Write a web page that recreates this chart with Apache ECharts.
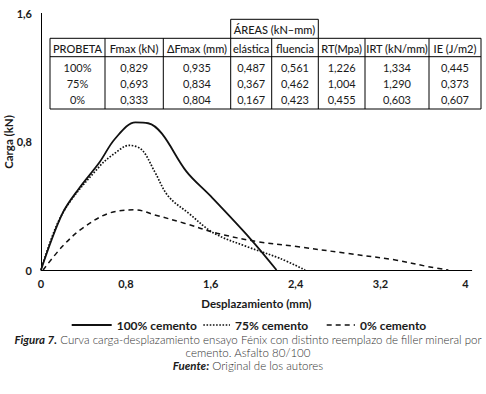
<!DOCTYPE html>
<html>
<head>
<meta charset="utf-8">
<script src="https://cdn.jsdelivr.net/npm/echarts@6/dist/echarts.min.js"></script>
<style>
html, body { margin: 0; padding: 0; background: #fff; }
#chart { width: 486px; height: 394px; }
</style>
</head>
<body>
<div id="chart"></div>
<script>
// curvas carga-desplazamiento: [desplazamiento (mm), carga (kN)]
var cem100 = [[0, 0], [0.2, 0.35], [0.36, 0.51], [0.55, 0.67], [0.70, 0.82], [0.89, 0.92],
	[1.01, 0.915], [1.14, 0.85], [1.37, 0.615], [1.60, 0.46], [1.98, 0.19], [2.22, 0]];
var cem75 = [[0, 0], [0.2, 0.35], [0.55, 0.645], [0.70, 0.73], [0.83, 0.777], [0.95, 0.75],
	[1.07, 0.615], [1.20, 0.46], [1.39, 0.355], [1.63, 0.23], [1.94, 0.146], [2.25, 0.073], [2.49, 0]];
var cem0 = [[0.02, 0], [0.2, 0.146], [0.39, 0.26], [0.64, 0.354], [0.89, 0.375], [1.07, 0.344],
	[1.35, 0.292], [1.66, 0.229], [2.04, 0.177], [2.41, 0.146], [2.88, 0.104], [3.34, 0.0625],
	[3.65, 0.021], [3.84, 0]];
var seriesNames = ['100% cemento', '75% cemento', '0% cemento'];
var yName = 'Carga (kN)';

// tabla de resultados
var tableGroup = 'ÁREAS (kN–mm)';
var tableHeader = ['PROBETA', 'Fmax (kN)', 'ΔFmax (mm)', 'elástica', 'fluencia', 'RT(Mpa)', 'IRT (kN/mm)', 'IE (J/m2)'];
var row100 = ['100%', '0,829', '0,935', '0,487', '0,561', '1,226', '1,334', '0,445'];
var row75 = ['75%', '0,693', '0,834', '0,367', '0,462', '1,004', '1,290', '0,373'];
var row0 = ['0%', '0,333', '0,804', '0,167', '0,423', '0,455', '0,603', '0,607'];

var FONT = 'Lato, "Noto Sans", sans-serif';
var INK = '#1a1a1a';

// estilos de linea de cada serie
var lineStyles = [
	{ color: '#111', width: 1.8, type: 'solid' },
	{ color: '#111', width: 1.7, type: [1.6, 1.6] },
	{ color: '#111', width: 1.5, type: [5, 4] }
];

// geometria de la tabla
var colX = [50, 105, 163.3, 230.7, 271.7, 318.3, 365, 429, 481];
var yGroupTop = 19.3, yTop = 38.3, yHead = 56.7, yBottom = 109;
var rowY = [67.5, 83.3, 99.2];

var chart = echarts.init(document.getElementById('chart'), null, { renderer: 'svg' });

var g = [];
function hline(x1, x2, y, st) {
	g.push({ type: 'line', shape: { x1: x1, y1: y, x2: x2, y2: y }, style: st || { stroke: '#000', lineWidth: 1 }, z: 10 });
}
function vline(x, y1, y2) {
	g.push({ type: 'line', shape: { x1: x, y1: y1, x2: x, y2: y2 }, style: { stroke: '#000', lineWidth: 1 }, z: 10 });
}
function cell(txt, x, y, weight, align, size) {
	g.push({
		type: 'text', x: x, y: y, z: 11,
		style: { text: txt, font: (weight || 'normal') + ' ' + (size || 11) + 'px ' + FONT, fill: INK, align: align || 'center', verticalAlign: 'middle' }
	});
}
// bordes
hline(colX[0], colX[8], yTop);
hline(colX[0], colX[8], yHead);
hline(colX[0], colX[8], yBottom);
colX.forEach(function (x) { vline(x, yTop, yBottom); });
// caja ÁREAS
hline(colX[3], colX[5], yGroupTop);
vline(colX[3], yGroupTop, yTop);
vline(colX[5], yGroupTop, yTop);
cell(tableGroup, (colX[3] + colX[5]) / 2, (yGroupTop + yTop) / 2 + 0.5, '500');
tableHeader.forEach(function (h, i) { cell(h, (colX[i] + colX[i + 1]) / 2, (yTop + yHead) / 2 + 0.5, '500'); });
[row100, row75, row0].forEach(function (r, j) {
	r.forEach(function (v, i) { cell(v, (colX[i] + colX[i + 1]) / 2, rowY[j]); });
});

// titulo del eje y (girado)
g.push({
	type: 'text', x: 8, y: 142, rotation: Math.PI / 2, z: 11,
	style: { text: yName, font: 'bold 11.5px ' + FONT, fill: INK, align: 'center', verticalAlign: 'middle' }
});

// leyenda (linea + texto)
var legX = [[71.7, 111.7], [203.3, 230], [326.7, 355]];
seriesNames.forEach(function (n, i) {
	var ls = lineStyles[i];
	hline(legX[i][0], legX[i][1], 325, {
		stroke: ls.color, lineWidth: ls.width,
		lineDash: ls.type === 'solid' ? null : ls.type
	});
	cell(n, legX[i][1] + 5, 325.5, 'bold', 'left', 12);
});

// pie de figura
var capRich = {
	b: { font: 'italic bold 11.5px ' + FONT, fill: INK },
	n: { font: '300 11.5px ' + FONT, fill: '#333' }
};
var capLines = [
	'{b|Figura 7.}{n| Curva carga-desplazamiento ensayo Fénix con distinto reemplazo de filler mineral por}',
	'{n|cemento. Asfalto 80/100}',
	'{b|Fuente:}{n| Original de los autores}'
];
capLines.forEach(function (t, i) {
	g.push({
		type: 'text', x: 248, y: 339.8 + i * 13, z: 11,
		style: { text: t, rich: capRich, align: 'center', verticalAlign: 'middle' }
	});
});

function fmt(v) { return String(+v.toFixed(1)).replace('.', ','); }

var option = {
	animation: false,
	grid: { left: 41, right: 14.3, top: 13.4, bottom: 124, outerBoundsMode: 'none', containLabel: false },
	xAxis: {
		type: 'value', min: 0, max: 4.06, interval: 0.8,
		name: 'Desplazamiento (mm)', nameLocation: 'middle', nameGap: 27,
		nameTextStyle: { fontFamily: FONT, fontSize: 11.5, fontWeight: 'bold', color: INK },
		axisLine: { lineStyle: { color: '#000', width: 1 } },
		axisTick: { show: false },
		splitLine: { show: false },
		axisLabel: { showMaxLabel: false, margin: 8, formatter: fmt, fontFamily: FONT, fontSize: 11, fontWeight: 'bold', color: INK }
	},
	yAxis: {
		type: 'value', min: 0, max: 1.6, interval: 0.8,
		axisLine: { show: true, lineStyle: { color: '#000', width: 1 } },
		axisTick: { show: false },
		splitLine: { show: false },
		axisLabel: { margin: 9, formatter: fmt, fontFamily: FONT, fontSize: 11, fontWeight: 'bold', color: INK }
	},
	series: seriesNames.map(function (n, i) {
		return {
			name: n, type: 'line', data: [cem100, cem75, cem0][i], symbol: 'none', smooth: 0.35,
			lineStyle: lineStyles[i], itemStyle: { color: '#111' }
		};
	}),
	graphic: g
};
chart.setOption(option);
</script>
</body>
</html>
